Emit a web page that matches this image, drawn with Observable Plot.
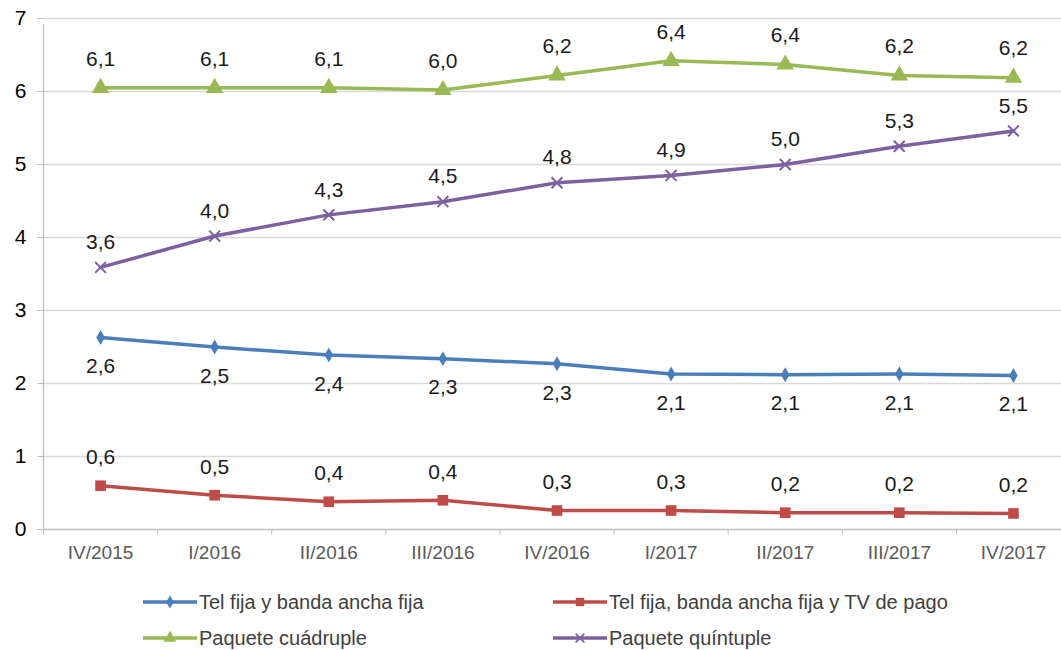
<!DOCTYPE html>
<html><head><meta charset="utf-8">
<script src="https://cdn.jsdelivr.net/npm/d3@7"></script>
<script src="https://cdn.jsdelivr.net/npm/@observablehq/plot@0.6"></script>
<style>
body{margin:0;background:#fff;font-family:"Liberation Sans",Arial,sans-serif;}
#chart{position:relative;width:1061px;overflow:hidden;}
#legend{position:relative;height:80px;width:1061px;}
.item{position:absolute;display:flex;align-items:center;font-size:20px;color:#404040;height:24px;white-space:nowrap;}
.item svg{display:block;margin-right:2px;}
</style></head><body>
<div id="chart"></div>
<div id="legend"></div>
<script>
const periods = ["IV/2015","I/2016","II/2016","III/2016","IV/2016","I/2017","II/2017","III/2017","IV/2017"];
const yTicks = [0,1,2,3,4,5,6,7];
const seriesNames = ["Tel fija y banda ancha fija","Tel fija, banda ancha fija y TV de pago","Paquete cuádruple","Paquete quíntuple"];
const seriesColors = ["#4a7ebb","#be4b48","#98b954","#7d60a0"];
const seriesSymbols = ["diamond","square","triangle","times"];

const telBanda       = [2.63,2.50,2.39,2.34,2.27,2.13,2.12,2.13,2.11];
const telBandaLabels = ["2,6","2,5","2,4","2,3","2,3","2,1","2,1","2,1","2,1"];
const telBandaTv       = [0.60,0.47,0.38,0.40,0.26,0.26,0.23,0.23,0.22];
const telBandaTvLabels = ["0,6","0,5","0,4","0,4","0,3","0,3","0,2","0,2","0,2"];
const cuadruple       = [6.05,6.05,6.05,6.02,6.22,6.42,6.37,6.22,6.19];
const cuadrupleLabels = ["6,1","6,1","6,1","6,0","6,2","6,4","6,4","6,2","6,2"];
const quintuple       = [3.59,4.02,4.31,4.49,4.75,4.85,5.00,5.25,5.46];
const quintupleLabels = ["3,6","4,0","4,3","4,5","4,8","4,9","5,0","5,3","5,5"];

const seriesValues = [telBanda, telBandaTv, cuadruple, quintuple];
const seriesLabels = [telBandaLabels, telBandaTvLabels, cuadrupleLabels, quintupleLabels];
const labelOffsets = [29, -28, -29, -25];
const symbolRadius = [4.5, 6, 6.5, 5];

const rows = [];
seriesNames.forEach((name, s) => {
  seriesValues[s].forEach((v, i) => rows.push({series: name, s, i, pos: i + 0.5, period: periods[i], value: v, label: seriesLabels[s][i]}));
});

const marks = [
  Plot.ruleY(yTicks.filter(t => t > 0), {y: d => d, stroke: "#d9d9d9", strokeWidth: 1.3}),
  Plot.axisY({ticks: yTicks, tickSize: 6, tickPadding: 11, tickFormat: d => String(d), stroke: "#bfbfbf", fill: "#000", fontSize: 21, label: null}),
  Plot.axisX({ticks: d3.range(0, periods.length + 1), tickSize: 6, tickFormat: () => "", stroke: "#bfbfbf", label: null}),
  Plot.axisX({ticks: periods.map((p, i) => i + 0.5), tickSize: 0, tickPadding: 16, tickFormat: v => periods[Math.floor(v)], fill: "#595959", fontSize: 19, label: null}),
  Plot.ruleY([0], {stroke: "#bfbfbf", strokeWidth: 1.3}),
  Plot.ruleX([0], {y1: 0, y2: yTicks[yTicks.length - 1], stroke: "#bfbfbf", strokeWidth: 1.3, insetBottom: -6})
];
seriesNames.forEach((name, s) => {
  const d = rows.filter(r => r.s === s);
  marks.push(Plot.line(d, {x: "pos", y: "value", stroke: seriesColors[s], strokeWidth: 3.5}));
  if (seriesSymbols[s] === "times") {
    marks.push(Plot.dot(d, {x: "pos", y: "value", symbol: "times", r: symbolRadius[s], stroke: seriesColors[s], strokeWidth: 2}));
  } else {
    marks.push(Plot.dot(d, {x: "pos", y: "value", symbol: seriesSymbols[s], r: symbolRadius[s], fill: seriesColors[s], stroke: "none"}));
  }
  marks.push(Plot.text(d, {x: "pos", y: "value", text: "label", dy: labelOffsets[s], fontSize: 21, fill: "#1a1a1a"}));
});

const chart = Plot.plot({
  width: 1061,
  height: 570,
  marginTop: 18,
  marginBottom: 41,
  marginLeft: 43,
  marginRight: -9,
  style: {fontFamily: "'Liberation Sans', Arial, sans-serif", fontSize: "18px", background: "white", overflow: "visible"},
  x: {type: "linear", domain: [0, periods.length], axis: null},
  y: {type: "linear", domain: [0, yTicks[yTicks.length - 1]], axis: null},
  marks
});
document.getElementById("chart").appendChild(chart);

// legend
const legend = document.getElementById("legend");
const legendPos = [[143, 20], [553, 20], [143, 56], [553, 56]];
const symbolPaths = {
  diamond: d3.symbol(d3.symbolDiamond, 50)(),
  square: d3.symbol(d3.symbolSquare, 70)(),
  triangle: d3.symbol(d3.symbolTriangle, 70)(),
  times: d3.symbol(d3.symbolTimes, 50)()
};
seriesNames.forEach((name, s) => {
  const div = document.createElement("div");
  div.className = "item";
  div.style.left = legendPos[s][0] + "px";
  div.style.top = legendPos[s][1] + "px";
  const c = seriesColors[s];
  const sym = seriesSymbols[s];
  const markStyle = sym === "times" ? `fill="none" stroke="${c}" stroke-width="1.8"` : `fill="${c}"`;
  div.innerHTML = `<svg width="54" height="24"><line x1="0" x2="54" y1="12" y2="12" stroke="${c}" stroke-width="3.5"/><path transform="translate(27,12)" d="${symbolPaths[sym]}" ${markStyle}/></svg><span>${name}</span>`;
  legend.appendChild(div);
});
</script>
</body></html>
